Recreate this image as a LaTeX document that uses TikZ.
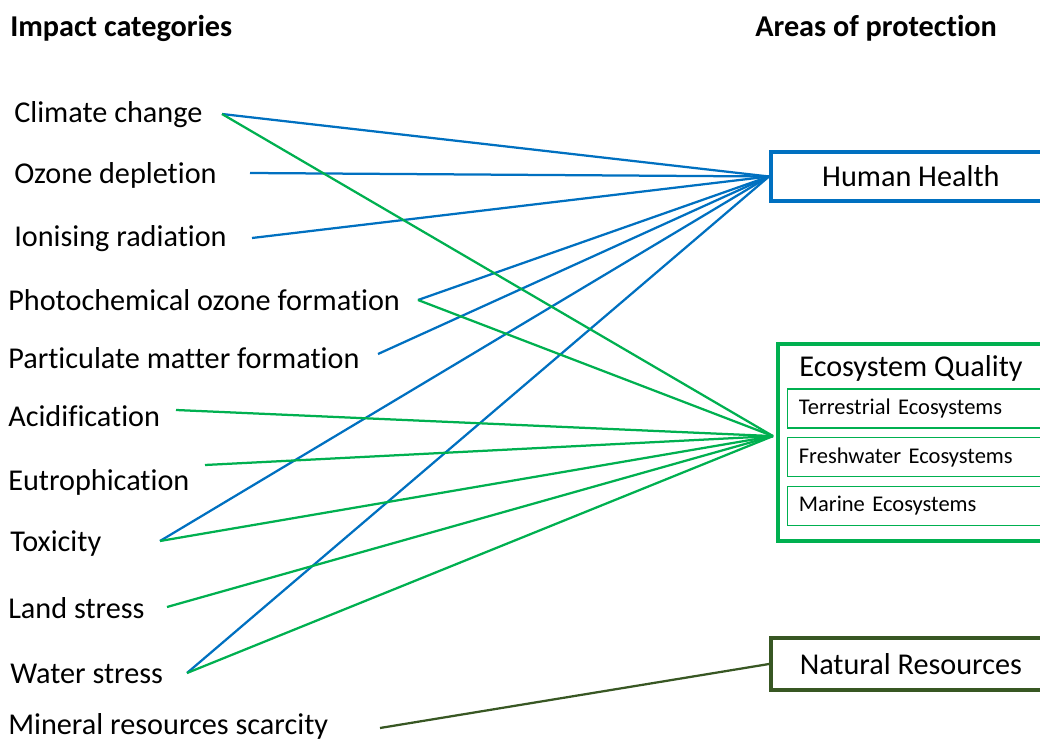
\documentclass[tikz,border=0pt]{standalone}
\usepackage{fontspec}
\setmainfont[Ligatures=NoCommon]{Carlito}
\definecolor{hhblue}{RGB}{0,112,192}
\definecolor{eqgreen}{RGB}{0,176,80}
\definecolor{nrgreen}{RGB}{56,87,35}
\begin{document}
\begin{tikzpicture}[x=0.025cm, y=-0.025cm,
    cat/.style={anchor=base west, inner sep=0pt, font=\fontsize{21.5}{24}\selectfont},
    head/.style={cat, font=\fontsize{21.5}{24}\selectfont\bfseries},
    area/.style={rectangle, draw, line width=2.6pt, anchor=west, minimum width=7cm, font=\fontsize{21.5}{24}\selectfont},
    subarea/.style={rectangle, draw=eqgreen, line width=1pt, anchor=west, inner xsep=0.28cm, text width=5.9cm, align=left, minimum height=0.975cm, font=\fontsize{16}{18}\selectfont},
    link/.style={line width=1.6pt}]
    \useasboundingbox (0,0) rectangle (1040,742);
    \clip (0,0) rectangle (1040,742);

    % Headers
    \node (cats) [head] at (10,37) {Impact categories};
    \node (areas) [head] at (755,37) {Areas of protection};

    % Impact categories
    \node (cc) [cat] at (14,123) {Climate change};
    \node (od) [cat] at (14,183) {Ozone depletion};
    \node (ir) [cat] at (14,246) {Ionising radiation};
    \node (po) [cat] at (8,310) {Photochemical ozone formation};
    \node (pm) [cat] at (8,368) {Particulate matter formation};
    \node (ac) [cat] at (8,426) {Acidification};
    \node (eu) [cat] at (8,490) {Eutrophication};
    \node (tx) [cat] at (10,551) {Toxicity};
    \node (ls) [cat] at (8,618) {Land stress};
    \node (ws) [cat] at (10,683) {Water stress};
    \node (mr) [cat] at (8,734) {Mineral resources scarcity};

    % Line ends next to the categories
    \coordinate (cc-o) at (222,114);
    \coordinate (od-o) at (250,173);
    \coordinate (ir-o) at (252,238);
    \coordinate (po-o) at (418,300);
    \coordinate (pm-o) at (378,354);
    \coordinate (ac-o) at (176,410);
    \coordinate (eu-o) at (205,465);
    \coordinate (tx-o) at (160,541);
    \coordinate (ls-o) at (167,607);
    \coordinate (ws-o) at (187,673);
    \coordinate (mr-o) at (380,728);

    % Areas of protection
    \node (hh) [area, draw=hhblue, minimum height=1.225cm] at (769,176.5) {Human Health};
    \node (eq) [area, draw=eqgreen, minimum width=6.75cm, minimum height=4.925cm] at (776,442.5) {};
    \node (eqt) [anchor=base, inner sep=0pt, font=\fontsize{21.5}{24}\selectfont] at (911,376) {Ecosystem Quality};
    \node (te) [subarea] at (787,408.5) {Terrestrial Ecosystems};
    \node (fe) [subarea] at (787,457) {Freshwater Ecosystems};
    \node (me) [subarea] at (787,506) {Marine Ecosystems};
    \node (nr) [area, draw=nrgreen, minimum height=1.3cm] at (769,664) {Natural Resources};

    % Links
    \foreach \c in {cc,od,ir,po,pm,tx,ws}
        \draw[link, hhblue] (\c-o) -- (hh.west);
    \foreach \c in {cc,po,ac,eu,tx,ls,ws}
        \draw[link, eqgreen] (\c-o) -- ([xshift=-0.075cm, yshift=0.16cm]eq.west);
    \draw[link, nrgreen] (mr-o) -- (nr.west);
\end{tikzpicture}
\end{document}
